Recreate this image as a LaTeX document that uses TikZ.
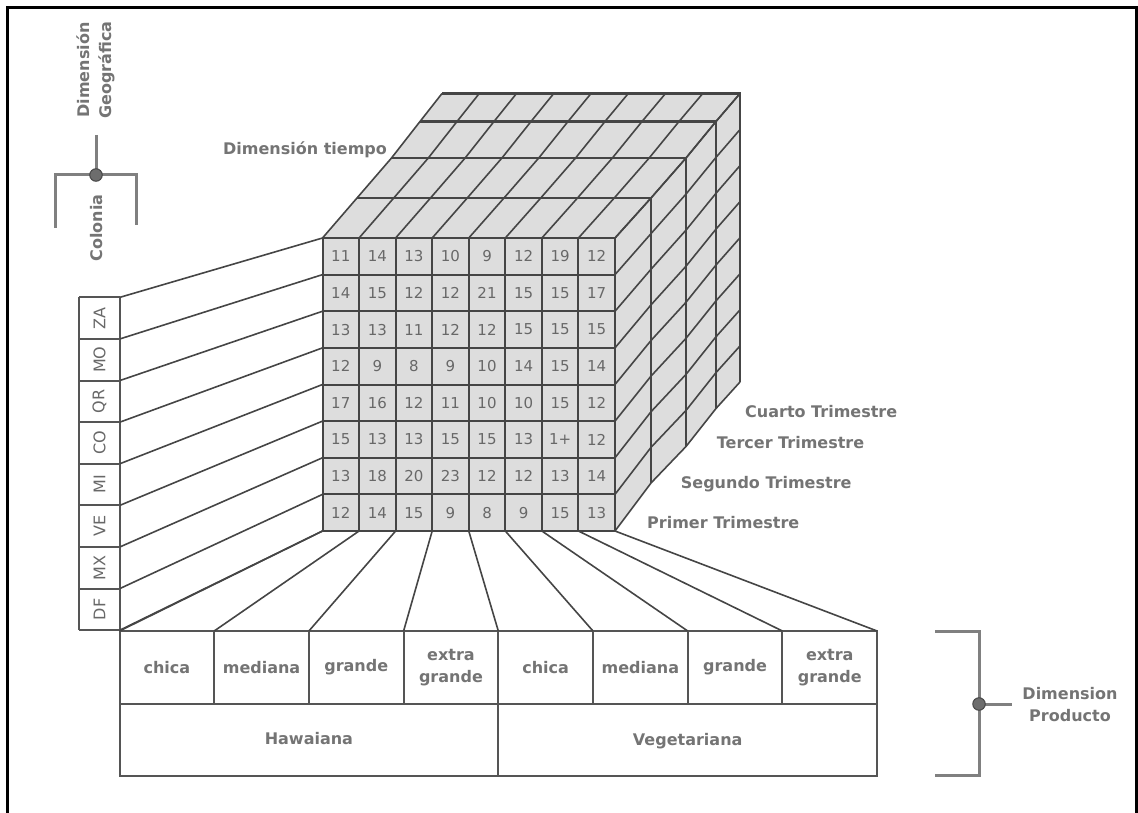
\documentclass[tikz,border=0pt]{standalone}
\usepackage{fontspec}
\setmainfont{DejaVu Sans}
\usetikzlibrary{calc}
\definecolor{txt}{HTML}{747474}
\definecolor{num}{HTML}{686868}
\definecolor{gridc}{HTML}{454545}
\definecolor{cubefill}{HTML}{DDDDDD}
\definecolor{brk}{HTML}{808080}
\definecolor{tabc}{HTML}{555555}
\begin{document}
\begin{tikzpicture}[x=1pt,y=-1pt,
  lbl/.style={text=txt,font=\bfseries\fontsize{16}{22}\selectfont,inner sep=0pt,align=center},
  numtxt/.style={text=num,font=\fontsize{15}{16}\selectfont,inner sep=0pt},
  codetxt/.style={text=num,font=\fontsize{16}{17}\selectfont,inner sep=0pt,rotate=90},
  gridline/.style={draw=gridc,line width=1.6pt,line join=round},
  frontline/.style={draw=gridc,line width=2pt},
  layerline/.style={draw=gridc,line width=2.2pt,line join=miter},
  conn/.style={draw=gridc,line width=1.6pt},
  boxline/.style={draw=tabc,line width=2pt},
  bracket/.style={draw=brk,line width=3pt},
  dotst/.style={circle,fill=brk!85!black,draw=brk!55!black,minimum size=12.5pt,inner sep=0pt,line width=1pt}]

\useasboundingbox (0,0) rectangle (1138,813);
% frame
\draw[line width=2.4pt] (7.5,813) -- (7.5,7.5) -- (1136.5,7.5) -- (1136.5,813);

% cube layers
\coordinate (TL0) at (322.5,238);   \coordinate (TR0) at (615,238);   \coordinate (BR0) at (615,531); \coordinate (BL0) at (322.5,531);
\coordinate (TL1) at (357,198);     \coordinate (TR1) at (651,198);   \coordinate (BR1) at (651,483);
\coordinate (TL2) at (391.5,158);   \coordinate (TR2) at (686,158);   \coordinate (BR2) at (686,446.5);
\coordinate (TL3) at (420,121.5);   \coordinate (TR3) at (716,121.5); \coordinate (BR3) at (716,408.5);
\coordinate (TL4) at (442,93.5);    \coordinate (TR4) at (740,93.5);  \coordinate (BR4) at (740,382);

\fill[cubefill] (BL0) -- (TL0) -- (TL1) -- (TL2) -- (TL3) -- (TL4) -- (TR4) -- (BR4) -- (BR3) -- (BR2) -- (BR1) -- (BR0) -- cycle;

% top face column lines
\foreach \i in {0,...,8}
  \draw[gridline] ($(TL0)!\i/8!(TR0)$) -- ($(TL1)!\i/8!(TR1)$) -- ($(TL2)!\i/8!(TR2)$) -- ($(TL3)!\i/8!(TR3)$) -- ($(TL4)!\i/8!(TR4)$);
% right face row lines
\foreach \j in {0,...,8}
  \draw[gridline] ($(TR0)!\j/8!(BR0)$) -- ($(TR1)!\j/8!(BR1)$) -- ($(TR2)!\j/8!(BR2)$) -- ($(TR3)!\j/8!(BR3)$) -- ($(TR4)!\j/8!(BR4)$);
% layer outlines
\foreach \k in {1,...,4}
  \draw[layerline] (TL\k) -- (TR\k) -- (BR\k);

% front face coordinates
\foreach \i in {0,...,8} {
  \coordinate (FT\i) at ($(TL0)!\i/8!(TR0)$);
  \coordinate (FB\i) at ($(BL0)!\i/8!(BR0)$);
  \coordinate (FL\i) at ($(TL0)!\i/8!(BL0)$);
  \coordinate (FR\i) at ($(TR0)!\i/8!(BR0)$);
}
\foreach \i in {0,...,8} {
  \draw[frontline] (FT\i) -- (FB\i);
  \draw[frontline] (FL\i) -- (FR\i);
}

% numbers
\foreach \rowvals [count=\r] in {
  {11,14,13,10,9,12,19,12},
  {14,15,12,12,21,15,15,17},
  {13,13,11,12,12,15,15,15},
  {12,9,8,9,10,14,15,14},
  {17,16,12,11,10,10,15,12},
  {15,13,13,15,15,13,1+,12},
  {13,18,20,23,12,12,13,14},
  {12,14,15,9,8,9,15,13}} {
  \foreach \v [count=\c] in \rowvals {
    \node[numtxt] (n-\r-\c) at ({322.5+36.5625*(\c-0.5)},{238+36.625*(\r-0.5)}) {\v};
  }
}

% left column (Colonia)
\foreach \k in {0,...,8} {
  \coordinate (LL\k) at (79,{297.3+41.6*\k});
  \coordinate (LR\k) at (120,{297.3+41.6*\k});
}
\draw[boxline] (LL0) -- (LL8);
\draw[boxline] (LR0) -- (LR8);
\foreach \k in {0,...,8} \draw[boxline] (LL\k) -- (LR\k);
\foreach \t [count=\k] in {ZA,MO,QR,CO,MI,VE,MX,DF}
  \node[codetxt] (code-\k) at (99.5,{297.3+41.6*(\k-0.5)}) {\t};
\foreach \k in {0,...,8} \draw[conn] (LR\k) -- (FL\k);

% bottom table
\foreach \i in {0,...,8} {
  \coordinate (TT\i) at ({119.5+94.7*\i},631);
  \coordinate (TM\i) at ({119.5+94.7*\i},703.5);
  \coordinate (TB\i) at ({119.5+94.7*\i},776);
}
\draw[boxline] (TT0) -- (TT8) -- (TB8) -- (TB0) -- cycle;
\draw[boxline] (TM0) -- (TM8);
\foreach \i in {1,...,7} \draw[boxline] (TT\i) -- (TM\i);
\draw[boxline] (TM4) -- (TB4);
\foreach \t [count=\i] in {chica,mediana,grande,extra\\grande,chica,mediana,grande,extra\\grande}
  \node[lbl] (sz-\i) at ({119.5+94.7*(\i-0.5)},667.5) {\t};
\node[lbl] (haw) at (308.9,739) {Hawaiana};
\node[lbl] (veg) at (687.7,741) {Vegetariana};
\foreach \i in {0,...,8} \draw[conn] (FB\i) -- (TT\i);

% labels
\node[lbl,anchor=base] (dimt) at (305,155) {Dimensión tiempo};
\node[lbl,anchor=base west] (t4) at (745,417) {Cuarto Trimestre};
\node[lbl,anchor=base west] (t3) at (716.7,448.5) {Tercer Trimestre};
\node[lbl,anchor=base west] (t2) at (680.7,488.5) {Segundo Trimestre};
\node[lbl,anchor=base west] (t1) at (647,528.5) {Primer Trimestre};

% geographic bracket
\coordinate (gtop) at (96,135);
\coordinate (gdot) at (96,175);
\coordinate (gl0) at (55,175); \coordinate (gl1) at (55,228);
\coordinate (gr0) at (136.7,175); \coordinate (gr1) at (136.7,225);
\draw[bracket] (gl1) -- (gl0) -- (gr0) -- (gr1);
\draw[bracket] (gtop) -- (gdot);
\node[dotst] (gd) at (gdot) {};
\node[lbl,rotate=90] (geo) at (96,70) {Dimensión\\Geográfica};
\node[lbl,rotate=90] (col) at (96.5,228) {Colonia};

% product bracket
\coordinate (p0) at (935,631.7); \coordinate (p1) at (979,631.7);
\coordinate (p2) at (979,775);   \coordinate (p3) at (935,775);
\coordinate (pdot) at (979,704); \coordinate (pend) at (1012,704);
\draw[bracket] (p0) -- (p1) -- (p2) -- (p3);
\draw[bracket] (pdot) -- (pend);
\node[dotst] (pd) at (pdot) {};
\node[lbl] (prod) at (1070,705) {Dimension\\Producto};
\end{tikzpicture}
\end{document}
